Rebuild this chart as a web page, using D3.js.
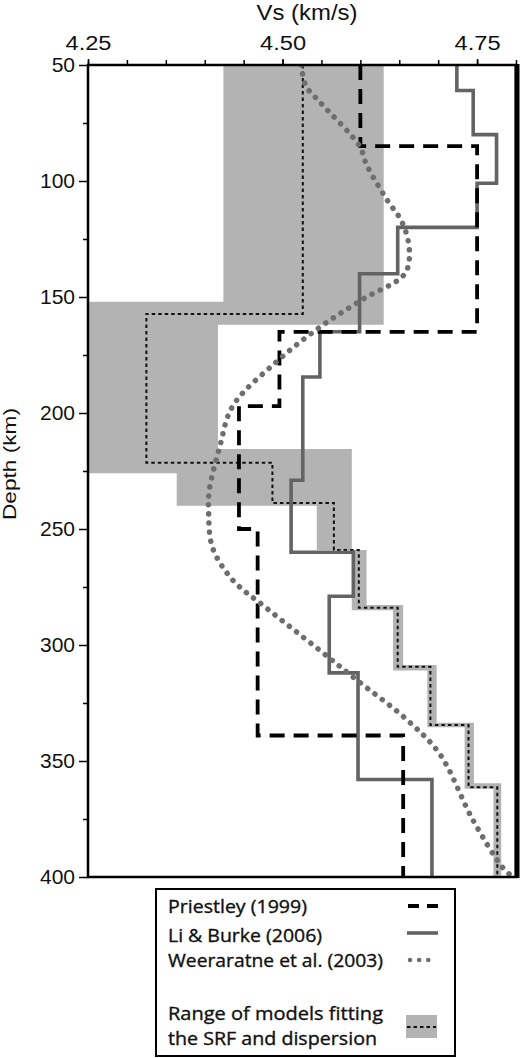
<!DOCTYPE html>
<html><head><meta charset="utf-8">
<script src="https://cdn.jsdelivr.net/npm/d3@7"></script>
<style>body{margin:0;background:#fff} svg{display:block}</style>
</head><body>
<svg id="c" width="520" height="1058"></svg>
<script>
// ---- data ----
const xTickLabels = [4.25, 4.50, 4.75];
const xMinorTicks = [4.25, 4.30, 4.35, 4.40, 4.45, 4.50, 4.55, 4.60, 4.65, 4.70, 4.75, 4.80];
const yTickLabels = [50, 100, 150, 200, 250, 300, 350, 400];
const yMinorTicks = [75, 125, 175, 225, 275, 325, 375];

// Priestley (1999): layer tops (km) and Vs (km/s)
const priestleyTop = [50, 85, 165, 197, 250, 339];
const priestleyVs  = [4.600, 4.750, 4.496, 4.444, 4.468, 4.655];

// Li & Burke (2006)
const liBurkeTop = [50, 61, 80, 101, 120, 140, 165, 184.5, 229, 260, 279, 312, 358];
const liBurkeVs  = [4.724, 4.745, 4.775, 4.750, 4.648, 4.599, 4.548, 4.526, 4.511, 4.591, 4.560, 4.597, 4.692];

// Weeraratne et al. (2003): smooth profile
const weerDepth = [50, 59, 66, 85, 93, 108, 118, 130, 140, 151, 163, 178, 197, 215, 233, 243, 258, 272, 284, 301, 315, 332, 347, 375, 396, 400];
const weerVs    = [4.524, 4.530, 4.548, 4.599, 4.608, 4.634, 4.654, 4.663, 4.657, 4.603, 4.548, 4.492, 4.436, 4.419, 4.406, 4.405, 4.410, 4.436, 4.479, 4.543, 4.595, 4.659, 4.702, 4.744, 4.783, 4.796];

// Best model (black fine dotted)
const bestTop = [50, 157.3, 221.4, 238.8, 259, 283.9, 309.4, 334.5, 361.3];
const bestVs  = [4.526, 4.325, 4.487, 4.566, 4.598, 4.648, 4.690, 4.739, 4.776];

// Range of models fitting the SRF and dispersion: min and max profiles
const rangeMinTop = [50, 152, 226, 240, 259, 285, 311, 335.5, 362];
const rangeMinVs  = [4.424, 4.25, 4.364, 4.544, 4.589, 4.642, 4.686, 4.734, 4.771];
const rangeMaxTop = [50, 162, 215.5, 259, 282.8, 308.6, 333.5, 359.6];
const rangeMaxVs  = [4.630, 4.417, 4.589, 4.608, 4.655, 4.698, 4.746, 4.781];

const maxDepth = 400;

const legendLabels = ["Priestley (1999)", "Li & Burke (2006)", "Weeraratne et al. (2003)"];
const legendRangeLabel = ["Range of models fitting", "the SRF and dispersion"];

// ---- drawing ----
const svg = d3.select("#c");
const x = d3.scaleLinear().domain([4.25, 4.80]).range([88, 516]);
const y = d3.scaleLinear().domain([50, 400]).range([65, 877]);

function steps(tops, vs) {
  const pts = [];
  for (let i = 0; i < tops.length; i++) {
    const bot = i < tops.length - 1 ? tops[i + 1] : maxDepth;
    pts.push([vs[i], tops[i]], [vs[i], bot]);
  }
  return pts;
}
const line = d3.line().x(d => x(d[0])).y(d => y(d[1]));

svg.append("defs").append("clipPath").attr("id", "clip")
  .append("rect").attr("x", 88).attr("y", 65).attr("width", 428).attr("height", 812);

const plot = svg.append("g").attr("clip-path", "url(#clip)");

// range polygon
const left = steps(rangeMinTop, rangeMinVs);
const right = steps(rangeMaxTop, rangeMaxVs).reverse();
plot.append("path").attr("d", line(left.concat(right)) + "Z")
  .attr("fill", "#b3b3b3").attr("stroke", "none");

// best model
plot.append("path").attr("d", line(steps(bestTop, bestVs)))
  .attr("fill", "none").attr("stroke", "#111").attr("stroke-width", 2)
  .attr("stroke-dasharray", "3.5 3");

// Li & Burke
plot.append("path").attr("d", line(steps(liBurkeTop, liBurkeVs)))
  .attr("fill", "none").attr("stroke", "#636363").attr("stroke-width", 3.6);

// Priestley
plot.append("path").attr("d", line(steps(priestleyTop, priestleyVs)))
  .attr("fill", "none").attr("stroke", "#000").attr("stroke-width", 3.8)
  .attr("stroke-dasharray", "15 9");

// Weeraratne
const wl = d3.line().x(d => x(d[0])).y(d => y(d[1])).curve(d3.curveCatmullRom.alpha(0.5));
plot.append("path").attr("d", wl(weerDepth.map((d, i) => [weerVs[i], d])))
  .attr("fill", "none").attr("stroke", "#6e6e6e").attr("stroke-width", 5.5)
  .attr("stroke-linecap", "round").attr("stroke-dasharray", "0.1 9");

// frame
svg.append("rect").attr("x", 88).attr("y", 65).attr("width", 428).attr("height", 812)
  .attr("fill", "none").attr("stroke", "#000").attr("stroke-width", 2.5);
svg.append("line").attr("x1", 517).attr("x2", 517).attr("y1", 64).attr("y2", 878)
  .attr("stroke", "#000").attr("stroke-width", 5);

// axes
const axFont = "'Liberation Sans', Arial, Helvetica, sans-serif";
function styleAxis(g) {
  g.select(".domain").remove();
  g.selectAll(".tick line").attr("stroke", "#000").attr("stroke-width", 1.5);
  g.selectAll(".tick text").attr("fill", "#111").style("font-family", axFont);
}
svg.append("g").attr("transform", "translate(0,65)")
  .call(d3.axisTop(x).tickValues(xMinorTicks).tickSize(5).tickFormat(""))
  .call(styleAxis);
svg.append("g").attr("transform", "translate(0,65)")
  .call(d3.axisTop(x).tickValues(xTickLabels).tickSize(6).tickPadding(9).tickFormat(d3.format(".2f")))
  .call(styleAxis)
  .call(g => g.selectAll(".tick text").style("font-size", "20px")
    .attr("textLength", 46).attr("lengthAdjust", "spacingAndGlyphs"));

svg.append("g").attr("transform", "translate(88,0)")
  .call(d3.axisLeft(y).tickValues(yMinorTicks).tickSize(5).tickFormat(""))
  .call(styleAxis);
svg.append("g").attr("transform", "translate(88,0)")
  .call(d3.axisLeft(y).tickValues(yTickLabels).tickSize(9).tickPadding(4))
  .call(styleAxis)
  .call(g => g.selectAll(".tick text").style("font-size", "21px"));

// axis titles
svg.append("text").attr("x", 307).attr("y", 20).attr("text-anchor", "middle")
  .style("font-family", axFont).style("font-size", "22px").attr("fill", "#111")
  .attr("textLength", 101).attr("lengthAdjust", "spacingAndGlyphs")
  .text("Vs (km/s)");
svg.append("text").attr("transform", "translate(16,464) rotate(-90)").attr("text-anchor", "middle")
  .style("font-family", axFont).style("font-size", "19px").attr("fill", "#111")
  .attr("textLength", 112).attr("lengthAdjust", "spacingAndGlyphs")
  .text("Depth (km)");

// legend
const lg = svg.append("g");
lg.append("rect").attr("x", 156).attr("y", 889).attr("width", 299).attr("height", 167)
  .attr("fill", "#fff").attr("stroke", "#000").attr("stroke-width", 2);
const legFont = "'Open Sans', 'Noto Sans', sans-serif";
const legWidths = [139, 154, 215];
const legBase = [913, 942, 967];
function legText(t, xx, yy, w) {
  lg.append("text").attr("x", xx).attr("y", yy).text(t)
    .style("font-family", legFont).style("font-size", "17.5px").attr("fill", "#111")
    .attr("stroke", "#111").attr("stroke-width", 0.35)
    .attr("textLength", w).attr("lengthAdjust", "spacingAndGlyphs");
}
legendLabels.forEach((t, i) => legText(t, 168, legBase[i], legWidths[i]));
const rangeWidths = [215, 209];
const rangeBase = [1020, 1045];
legendRangeLabel.forEach((t, i) => legText(t, 168, rangeBase[i], rangeWidths[i]));
// samples
lg.append("line").attr("x1", 408).attr("x2", 438).attr("y1", 906).attr("y2", 906)
  .attr("stroke", "#000").attr("stroke-width", 3.8).attr("stroke-dasharray", "11 8");
lg.append("line").attr("x1", 407).attr("x2", 438).attr("y1", 933).attr("y2", 933)
  .attr("stroke", "#636363").attr("stroke-width", 3.6);
lg.append("line").attr("x1", 410).attr("x2", 436).attr("y1", 960).attr("y2", 960)
  .attr("stroke", "#6e6e6e").attr("stroke-width", 4.5).attr("stroke-linecap", "round")
  .attr("stroke-dasharray", "0.1 9");
lg.append("rect").attr("x", 406).attr("y", 1015).attr("width", 31).attr("height", 23)
  .attr("fill", "#b3b3b3");
lg.append("line").attr("x1", 407).attr("x2", 436).attr("y1", 1027).attr("y2", 1027)
  .attr("stroke", "#111").attr("stroke-width", 2).attr("stroke-dasharray", "3.5 3");
</script>
</body></html>
